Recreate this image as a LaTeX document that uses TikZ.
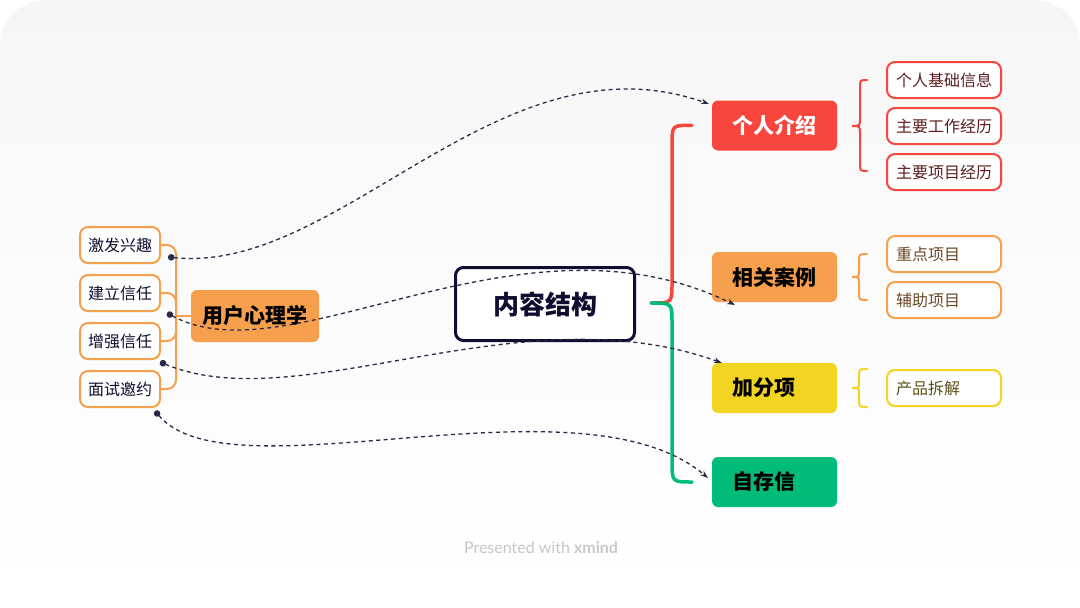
\documentclass[tikz,border=0pt]{standalone}
\usepackage{fontspec}
\setmainfont{Lato}
\newfontfamily\cjk{Noto Sans CJK SC}
\usetikzlibrary{arrows.meta}
\definecolor{navy}{HTML}{0E0E30}
\definecolor{dashc}{HTML}{2A2A48}
\definecolor{cred}{HTML}{F8463F}
\definecolor{corange}{HTML}{F6A04D}
\definecolor{cyellow}{HTML}{F2D422}
\definecolor{cgreen}{HTML}{00BC78}
\definecolor{tred}{HTML}{5C1E1E}
\definecolor{torange}{HTML}{6A4826}
\definecolor{tyellow}{HTML}{5C5018}
\definecolor{bgtop}{HTML}{F6F6F6}
\definecolor{footc}{HTML}{C8C8C8}
\begin{document}
\begin{tikzpicture}[x=1pt,y=-1pt,
  topic/.style={rectangle, rounded corners=6pt, minimum width=125pt, minimum height=50pt,
    text width=85pt, inner xsep=20pt, inner ysep=0pt, align=left, text=black,
    font=\cjk\bfseries\fontsize{21}{24}\selectfont},
  subitem/.style={rectangle, rounded corners=8pt, draw, line width=2pt, fill=white,
    minimum width=114pt, minimum height=36pt, text width=96pt, inner xsep=9pt, inner ysep=0pt,
    align=left, font=\cjk\fontsize{16}{19}\selectfont},
  litem/.style={rectangle, rounded corners=8pt, draw=corange, line width=2pt, fill=white,
    minimum width=80pt, minimum height=36pt, inner sep=0pt, text=navy,
    font=\cjk\fontsize{16}{19}\selectfont},
  dashline/.style={draw=dashc, line width=1.3pt, dash pattern=on 4pt off 3.5pt,
    {Circle[length=6.5pt,width=6.5pt]}-{Stealth[length=8pt,width=5.5pt]}},
  trunk/.style={line width=3.5pt, line cap=round},
  bracec/.style={line width=2pt, line cap=round}
]
\useasboundingbox (0,0) rectangle (1080,608);
\shade[top color=bgtop, bottom color=white, middle color=bgtop!40!white, rounded corners=45pt] (0,0) rectangle (1080,608);

% central
\node[rectangle, rounded corners=8pt, draw=navy, line width=3pt, fill=white,
  minimum width=179pt, minimum height=73pt, text=navy,
  font=\cjk\bfseries\fontsize{26}{30}\selectfont] (c) at (545,304) {内容结构};

% main topics
\node[topic, fill=cred, text=white] (t1) at (774.5,125.5) {个人介绍};
\node[topic, fill=corange] (t2) at (774.5,277) {相关案例};
\node[topic, fill=cyellow] (t3) at (774.5,388) {加分项};
\node[topic, fill=cgreen] (t4) at (774.5,482) {自存信};

% sub items
\node[subitem, draw=cred, text=tred] (s1) at (944,80) {个人基础信息};
\node[subitem, draw=cred, text=tred] (s2) at (944,126) {主要工作经历};
\node[subitem, draw=cred, text=tred] (s3) at (944,172) {主要项目经历};
\node[subitem, draw=corange, text=torange] (s4) at (944,254) {重点项目};
\node[subitem, draw=corange, text=torange] (s5) at (944,300) {辅助项目};
\node[subitem, draw=cyellow, text=tyellow] (s6) at (944,388) {产品拆解};

% braces
\draw[bracec, cred] (867,80) .. controls (860,80) .. (860,88) -- (860,118) .. controls (860,126) .. (852,126)
  .. controls (860,126) .. (860,134) -- (860,163) .. controls (860,171) .. (867,171);
\draw[bracec, corange] (867,254) .. controls (859,254) .. (859,262) -- (859,270) .. controls (859,277) .. (852,277)
  .. controls (859,277) .. (859,284) -- (859,292) .. controls (859,300) .. (867,300);
\draw[bracec, cyellow] (867,369) .. controls (859,369) .. (859,377) -- (859,382) .. controls (859,388) .. (852,388)
  .. controls (859,388) .. (859,394) -- (859,399) .. controls (859,407) .. (867,407);

% trunk
\coordinate (root) at (651,303);
\draw[trunk, cred] (root) .. controls (672,303) .. (672,283) -- (672,146) .. controls (672,125) .. (t1.west -| 692,0);
\draw[trunk, cgreen] (root) .. controls (672,303) .. (672,323) -- (672,461) .. controls (672,482) .. (t4.west -| 692,0);

% left
\node[rectangle, rounded corners=6pt, fill=corange, minimum width=128pt, minimum height=52pt,
  inner sep=0pt, text=black, font=\cjk\bfseries\fontsize{21}{24}\selectfont] (u) at (255,316) {用户心理学};
\node[litem] (l1) at (120,245) {激发兴趣};
\node[litem] (l2) at (120,293) {建立信任};
\node[litem] (l3) at (120,341) {增强信任};
\node[litem] (l4) at (120,389) {面试邀约};
\coordinate (ujoin) at (176,316);
\draw[corange, line width=2pt] (u.west) -- (ujoin);
\foreach \n in {l1,l2,l3,l4}{
  \draw[corange, line width=2pt, rounded corners=9pt] (ujoin) |- (\n.east);
}

% dashed connectors
\coordinate (d1s) at (168,257);
\coordinate (d1e) at (709,104);
\coordinate (d2s) at (167,313);
\coordinate (d2e) at (735,305);
\coordinate (d3s) at (160,362);
\coordinate (d3e) at (722,363);
\coordinate (d4s) at (155,411);
\coordinate (d4e) at (708,478);
\draw[dashline] (d1s) .. controls (340,275) and (500,30) .. (d1e);
\draw[dashline] (d2s) .. controls (290,380) and (520,200) .. (d2e);
\draw[dashline] (d3s) .. controls (300,420) and (520,290) .. (d3e);
\draw[dashline] (d4s) .. controls (230,500) and (580,370) .. (d4e);

% footer
\node[text=footc, font=\fontsize{16}{18}\selectfont, inner sep=0pt] (foot) at (541,548) {Presented with \textbf{xmind}};
\end{tikzpicture}
\end{document}
